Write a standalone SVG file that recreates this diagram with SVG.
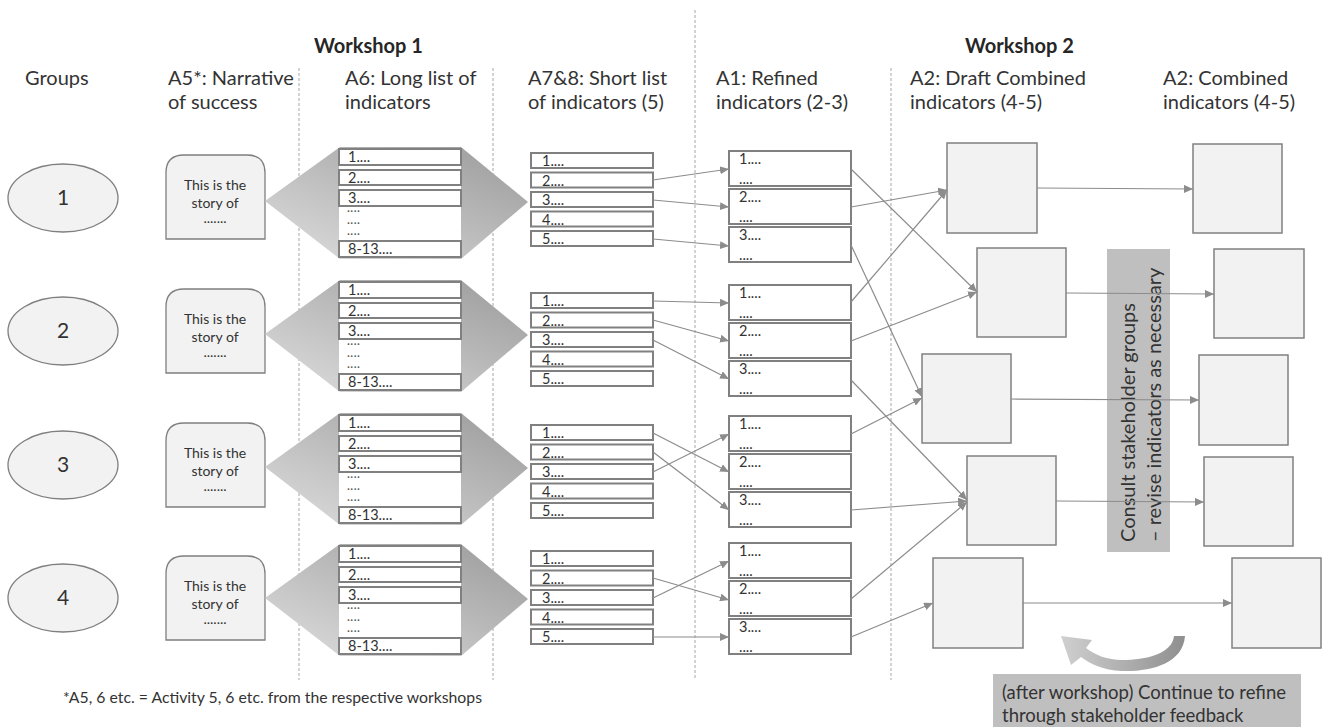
<svg xmlns="http://www.w3.org/2000/svg" width="1325" height="727" viewBox="0 0 1325 727">
<style>
text{font-family:Lato,"Liberation Sans",sans-serif;fill:#333}
.hdr{font-size:20px}
.ws{font-size:20px;font-weight:bold;fill:#262626}
.num{font-size:21px;text-anchor:middle}
.st{font-size:14px;text-anchor:middle}
.li{font-size:14.5px}
.dots{font-size:11px;letter-spacing:0.5px;fill:#555}
.ell{fill:#f2f2f2;stroke:#7f7f7f;stroke-width:1.3}
.story{fill:#f2f2f2;stroke:#7f7f7f;stroke-width:1.3}
.lb{fill:#fff;stroke:#808080;stroke-width:2}
.sq{fill:#f2f2f2;stroke:#808080;stroke-width:1.5}
.dash{stroke:#a6a6a6;stroke-dasharray:3 2;stroke-width:1}
.conn{stroke:#8c8c8c;stroke-width:1.2;fill:none;marker-end:url(#ah)}
.fun{fill:url(#fg)}
</style>
<defs>
<marker id="ah" markerUnits="userSpaceOnUse" markerWidth="10" markerHeight="8" refX="9" refY="4" orient="auto"><path d="M0,0 L9,4 L0,8 z" fill="#8c8c8c"/></marker>
<linearGradient id="fg" x1="1" y1="0" x2="0" y2="1"><stop offset="0" stop-color="#9a9a9a"/><stop offset="1" stop-color="#dedede"/></linearGradient>
<linearGradient id="cg" x1="1" y1="0" x2="0" y2="0"><stop offset="0" stop-color="#8f8f8f"/><stop offset="1" stop-color="#d0d0d0"/></linearGradient>
</defs>
<rect width="1325" height="727" fill="#fff"/>
<g id="dividers">
<line class="dash" x1="299" y1="68" x2="299" y2="680"/>
<line class="dash" x1="493" y1="68" x2="493" y2="680"/>
<line class="dash" x1="695" y1="10" x2="695" y2="680"/>
<line class="dash" x1="891" y1="68" x2="891" y2="680"/>
</g>
<g id="headers">
<text class="ws" x="314" y="53">Workshop 1</text>
<text class="ws" x="965" y="53">Workshop 2</text>
<text class="hdr" x="25" y="85">Groups</text>
<text class="hdr" x="168" y="85">A5*: Narrative</text>
<text class="hdr" x="168" y="109">of success</text>
<text class="hdr" x="345" y="85">A6: Long list of</text>
<text class="hdr" x="345" y="109">indicators</text>
<text class="hdr" x="528" y="85">A7&amp;8: Short list</text>
<text class="hdr" x="528" y="109">of indicators (5)</text>
<text class="hdr" x="716" y="85">A1: Refined</text>
<text class="hdr" x="716" y="109">indicators (2-3)</text>
<text class="hdr" x="910" y="85">A2: Draft Combined</text>
<text class="hdr" x="910" y="109">indicators (4-5)</text>
<text class="hdr" x="1163" y="85">A2: Combined</text>
<text class="hdr" x="1163" y="109">indicators (4-5)</text>
</g>
<!-- Row 1 -->
<g id="group1"><ellipse class="ell" cx="63" cy="198" rx="55" ry="34"/><text class="num" x="63" y="205">1</text></g>
<g id="story1"><path class="story" d="M166,239 V173 Q166,155 184,155 H247 Q265,155 265,173 V239 Z"/><text class="st" x="215" y="190">This is the</text><text class="st" x="215" y="208">story of</text><text class="st" x="215" y="223">.......</text></g>
<g id="long1" transform="translate(0,149)">
<polygon class="fun" points="265,52 340,-2 461,-2 528,53 461,110 340,110"/>
<rect x="339" y="-1" width="122" height="110" fill="#fff"/>
<rect class="lb" x="339" y="0" width="122" height="16"/><text class="li" x="348" y="13">1....</text>
<rect class="lb" x="339" y="21" width="122" height="15"/><text class="li" x="348" y="34">2....</text>
<rect class="lb" x="339" y="41" width="122" height="16"/><text class="li" x="348" y="54">3....</text>
<text class="dots"><tspan x="347" y="66">····</tspan><tspan x="347" y="77.5">····</tspan><tspan x="347" y="89">····</tspan></text>
<rect class="lb" x="339" y="92" width="122" height="16"/><text class="li" x="348" y="105">8-13....</text>
</g>
<g id="short1" transform="translate(0,153)">
<rect class="lb" x="531" y="0" width="122" height="15"/><text class="li" x="542" y="13">1....</text>
<rect class="lb" x="531" y="19.5" width="122" height="15"/><text class="li" x="542" y="32.5">2....</text>
<rect class="lb" x="531" y="39" width="122" height="15"/><text class="li" x="542" y="52">3....</text>
<rect class="lb" x="531" y="58.5" width="122" height="15"/><text class="li" x="542" y="71.5">4....</text>
<rect class="lb" x="531" y="78" width="122" height="15"/><text class="li" x="542" y="91">5....</text>
</g>
<g id="refined1" transform="translate(0,151)">
<rect class="lb" x="729" y="0" width="122" height="35"/><text class="li" x="739" y="13">1....</text><text class="li" x="739" y="33">....</text>
<rect class="lb" x="729" y="38" width="122" height="35"/><text class="li" x="739" y="51">2....</text><text class="li" x="739" y="71">....</text>
<rect class="lb" x="729" y="76" width="122" height="35"/><text class="li" x="739" y="89">3....</text><text class="li" x="739" y="109">....</text>
</g>
<!-- Row 2 -->
<g id="group2"><ellipse class="ell" cx="63" cy="331" rx="55" ry="34"/><text class="num" x="63" y="338">2</text></g>
<g id="story2" transform="translate(0,134)"><path class="story" d="M166,239 V173 Q166,155 184,155 H247 Q265,155 265,173 V239 Z"/><text class="st" x="215" y="190">This is the</text><text class="st" x="215" y="208">story of</text><text class="st" x="215" y="223">.......</text></g>
<g id="long2" transform="translate(0,282)">
<polygon class="fun" points="265,52 340,-2 461,-2 528,53 461,110 340,110"/>
<rect x="339" y="-1" width="122" height="110" fill="#fff"/>
<rect class="lb" x="339" y="0" width="122" height="16"/><text class="li" x="348" y="13">1....</text>
<rect class="lb" x="339" y="21" width="122" height="15"/><text class="li" x="348" y="34">2....</text>
<rect class="lb" x="339" y="41" width="122" height="16"/><text class="li" x="348" y="54">3....</text>
<text class="dots"><tspan x="347" y="66">····</tspan><tspan x="347" y="77.5">····</tspan><tspan x="347" y="89">····</tspan></text>
<rect class="lb" x="339" y="92" width="122" height="16"/><text class="li" x="348" y="105">8-13....</text>
</g>
<g id="short2" transform="translate(0,293)">
<rect class="lb" x="531" y="0" width="122" height="15"/><text class="li" x="542" y="13">1....</text>
<rect class="lb" x="531" y="19.5" width="122" height="15"/><text class="li" x="542" y="32.5">2....</text>
<rect class="lb" x="531" y="39" width="122" height="15"/><text class="li" x="542" y="52">3....</text>
<rect class="lb" x="531" y="58.5" width="122" height="15"/><text class="li" x="542" y="71.5">4....</text>
<rect class="lb" x="531" y="78" width="122" height="15"/><text class="li" x="542" y="91">5....</text>
</g>
<g id="refined2" transform="translate(0,285)">
<rect class="lb" x="729" y="0" width="122" height="35"/><text class="li" x="739" y="13">1....</text><text class="li" x="739" y="33">....</text>
<rect class="lb" x="729" y="38" width="122" height="35"/><text class="li" x="739" y="51">2....</text><text class="li" x="739" y="71">....</text>
<rect class="lb" x="729" y="76" width="122" height="35"/><text class="li" x="739" y="89">3....</text><text class="li" x="739" y="109">....</text>
</g>
<!-- Row 3 -->
<g id="group3"><ellipse class="ell" cx="63" cy="465" rx="55" ry="34"/><text class="num" x="63" y="472">3</text></g>
<g id="story3" transform="translate(0,268)"><path class="story" d="M166,239 V173 Q166,155 184,155 H247 Q265,155 265,173 V239 Z"/><text class="st" x="215" y="190">This is the</text><text class="st" x="215" y="208">story of</text><text class="st" x="215" y="223">.......</text></g>
<g id="long3" transform="translate(0,415)">
<polygon class="fun" points="265,52 340,-2 461,-2 528,53 461,110 340,110"/>
<rect x="339" y="-1" width="122" height="110" fill="#fff"/>
<rect class="lb" x="339" y="0" width="122" height="16"/><text class="li" x="348" y="13">1....</text>
<rect class="lb" x="339" y="21" width="122" height="15"/><text class="li" x="348" y="34">2....</text>
<rect class="lb" x="339" y="41" width="122" height="16"/><text class="li" x="348" y="54">3....</text>
<text class="dots"><tspan x="347" y="66">····</tspan><tspan x="347" y="77.5">····</tspan><tspan x="347" y="89">····</tspan></text>
<rect class="lb" x="339" y="92" width="122" height="16"/><text class="li" x="348" y="105">8-13....</text>
</g>
<g id="short3" transform="translate(0,425)">
<rect class="lb" x="531" y="0" width="122" height="15"/><text class="li" x="542" y="13">1....</text>
<rect class="lb" x="531" y="19.5" width="122" height="15"/><text class="li" x="542" y="32.5">2....</text>
<rect class="lb" x="531" y="39" width="122" height="15"/><text class="li" x="542" y="52">3....</text>
<rect class="lb" x="531" y="58.5" width="122" height="15"/><text class="li" x="542" y="71.5">4....</text>
<rect class="lb" x="531" y="78" width="122" height="15"/><text class="li" x="542" y="91">5....</text>
</g>
<g id="refined3" transform="translate(0,416)">
<rect class="lb" x="729" y="0" width="122" height="35"/><text class="li" x="739" y="13">1....</text><text class="li" x="739" y="33">....</text>
<rect class="lb" x="729" y="38" width="122" height="35"/><text class="li" x="739" y="51">2....</text><text class="li" x="739" y="71">....</text>
<rect class="lb" x="729" y="76" width="122" height="35"/><text class="li" x="739" y="89">3....</text><text class="li" x="739" y="109">....</text>
</g>
<!-- Row 4 -->
<g id="group4"><ellipse class="ell" cx="63" cy="598" rx="55" ry="34"/><text class="num" x="63" y="605">4</text></g>
<g id="story4" transform="translate(0,401)"><path class="story" d="M166,239 V173 Q166,155 184,155 H247 Q265,155 265,173 V239 Z"/><text class="st" x="215" y="190">This is the</text><text class="st" x="215" y="208">story of</text><text class="st" x="215" y="223">.......</text></g>
<g id="long4" transform="translate(0,546)">
<polygon class="fun" points="265,52 340,-2 461,-2 528,53 461,110 340,110"/>
<rect x="339" y="-1" width="122" height="110" fill="#fff"/>
<rect class="lb" x="339" y="0" width="122" height="16"/><text class="li" x="348" y="13">1....</text>
<rect class="lb" x="339" y="21" width="122" height="15"/><text class="li" x="348" y="34">2....</text>
<rect class="lb" x="339" y="41" width="122" height="16"/><text class="li" x="348" y="54">3....</text>
<text class="dots"><tspan x="347" y="66">····</tspan><tspan x="347" y="77.5">····</tspan><tspan x="347" y="89">····</tspan></text>
<rect class="lb" x="339" y="92" width="122" height="16"/><text class="li" x="348" y="105">8-13....</text>
</g>
<g id="short4" transform="translate(0,551)">
<rect class="lb" x="531" y="0" width="122" height="15"/><text class="li" x="542" y="13">1....</text>
<rect class="lb" x="531" y="19.5" width="122" height="15"/><text class="li" x="542" y="32.5">2....</text>
<rect class="lb" x="531" y="39" width="122" height="15"/><text class="li" x="542" y="52">3....</text>
<rect class="lb" x="531" y="58.5" width="122" height="15"/><text class="li" x="542" y="71.5">4....</text>
<rect class="lb" x="531" y="78" width="122" height="15"/><text class="li" x="542" y="91">5....</text>
</g>
<g id="refined4" transform="translate(0,543)">
<rect class="lb" x="729" y="0" width="122" height="35"/><text class="li" x="739" y="13">1....</text><text class="li" x="739" y="33">....</text>
<rect class="lb" x="729" y="38" width="122" height="35"/><text class="li" x="739" y="51">2....</text><text class="li" x="739" y="71">....</text>
<rect class="lb" x="729" y="76" width="122" height="35"/><text class="li" x="739" y="89">3....</text><text class="li" x="739" y="109">....</text>
</g>
<!-- Draft combined -->
<g id="draft1"><rect class="sq" x="947" y="143" width="90" height="90"/></g>
<g id="draft2"><rect class="sq" x="977" y="248" width="89" height="89"/></g>
<g id="draft3"><rect class="sq" x="922" y="354" width="89" height="89"/></g>
<g id="draft4"><rect class="sq" x="967" y="456" width="89" height="89"/></g>
<g id="draft5"><rect class="sq" x="933" y="558" width="90" height="90"/></g>
<!-- Combined -->
<g id="final1"><rect class="sq" x="1193" y="144" width="89" height="89"/></g>
<g id="final2"><rect class="sq" x="1214" y="249" width="90" height="89"/></g>
<g id="final3"><rect class="sq" x="1199" y="355" width="89" height="90"/></g>
<g id="final4"><rect class="sq" x="1204" y="457" width="89" height="89"/></g>
<g id="final5"><rect class="sq" x="1232" y="558" width="89" height="90"/></g>
<g id="consult">
<rect x="1107" y="249" width="63" height="303" fill="#bfbfbf"/>
<text class="hdr" transform="translate(1135,542) rotate(-90)">Consult stakeholder groups</text>
<text class="hdr" transform="translate(1161,542) rotate(-90)">– revise indicators as necessary</text>
</g>
<g id="feedback">
<path d="M1185,636 C1183,664 1150,672 1122,671 C1103,670 1090,664 1081,657 L1071,665 L1061,636 L1092,640 L1086,648 C1095,655 1107,660 1122,660 C1146,660 1172,654 1174,636 Z" fill="url(#cg)"/>
<rect x="993" y="674" width="308" height="53" fill="#bfbfbf"/>
<text x="1002" y="699" font-size="18.5">(after workshop) Continue to refine</text>
<text x="1002" y="722" font-size="18.5">through stakeholder feedback</text>
</g>
<g id="connectors">
<line class="conn" x1="653" y1="180" x2="729" y2="169"/>
<line class="conn" x1="653" y1="200" x2="729" y2="207"/>
<line class="conn" x1="653" y1="239" x2="729" y2="246"/>
<line class="conn" x1="653" y1="301" x2="729" y2="303"/>
<line class="conn" x1="653" y1="320" x2="729" y2="341"/>
<line class="conn" x1="653" y1="340" x2="729" y2="379"/>
<line class="conn" x1="653" y1="433" x2="729" y2="472"/>
<line class="conn" x1="653" y1="452" x2="729" y2="510"/>
<line class="conn" x1="653" y1="472" x2="729" y2="434"/>
<line class="conn" x1="653" y1="578" x2="729" y2="600"/>
<line class="conn" x1="653" y1="598" x2="729" y2="561"/>
<line class="conn" x1="653" y1="637" x2="729" y2="637"/>
<line class="conn" x1="851" y1="169" x2="977" y2="292"/>
<line class="conn" x1="851" y1="207" x2="947" y2="190"/>
<line class="conn" x1="851" y1="245" x2="922" y2="397"/>
<line class="conn" x1="851" y1="302" x2="947" y2="190"/>
<line class="conn" x1="851" y1="341" x2="977" y2="292"/>
<line class="conn" x1="851" y1="380" x2="967" y2="500"/>
<line class="conn" x1="851" y1="434" x2="922" y2="398"/>
<line class="conn" x1="851" y1="510" x2="967" y2="501"/>
<line class="conn" x1="851" y1="599" x2="967" y2="502"/>
<line class="conn" x1="851" y1="637" x2="933" y2="603"/>
<line class="conn" x1="1037" y1="188" x2="1193" y2="189"/>
<line class="conn" x1="1066" y1="293" x2="1214" y2="294"/>
<line class="conn" x1="1011" y1="399" x2="1199" y2="400"/>
<line class="conn" x1="1056" y1="501" x2="1204" y2="502"/>
<line class="conn" x1="1023" y1="603" x2="1232" y2="603"/>
</g>
<g id="footnote"><text x="63" y="703" font-size="15.8">*A5, 6 etc. = Activity 5, 6 etc. from the respective workshops</text></g>
</svg>
